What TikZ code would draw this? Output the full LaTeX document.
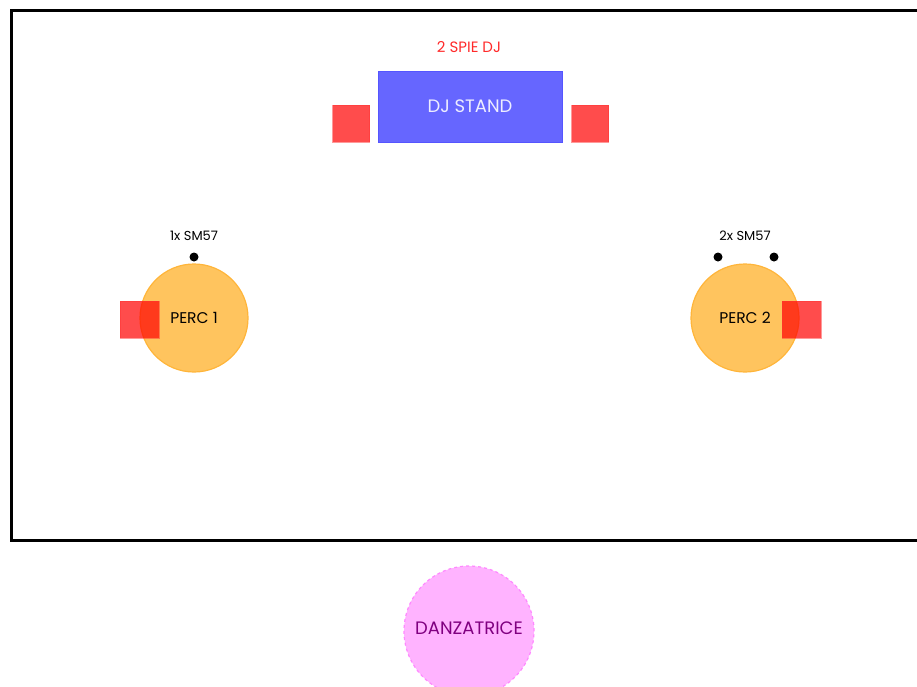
\documentclass[tikz,border=0pt]{standalone}
\usepackage{fontspec}
\setmainfont{Poppins}

\definecolor{djblue}{HTML}{6666FF}
\definecolor{djedge}{HTML}{5555FF}
\definecolor{percfill}{HTML}{FFC45E}
\definecolor{percedge}{HTML}{FFB53A}
\definecolor{danzfill}{HTML}{FFB3FF}
\definecolor{danzedge}{HTML}{FF88FF}
\definecolor{danztext}{HTML}{800080}
\definecolor{spietext}{HTML}{FF2A2A}

\begin{document}
\begin{tikzpicture}[x=1pt, y=-1pt,
	lbl/.style={inner sep=0pt, font=\fontsize{13}{15}\selectfont},
	djbox/.style={draw=djedge, fill=djblue, line width=1pt, minimum width=184pt, minimum height=71pt, text=white!88!djblue, font=\fontsize{18}{20}\selectfont},
	spkbox/.style={fill=red, fill opacity=0.7, draw=red!80, draw opacity=0.5, minimum width=37pt, minimum height=37pt, inner sep=0pt},
	percbox/.style={circle, fill=percfill, draw=percedge, line width=1.2pt, minimum size=108pt, inner sep=0pt, font=\fontsize{15.5}{17}\selectfont},
	micdot/.style={circle, fill=black, minimum size=9pt, inner sep=0pt},
	danzbox/.style={circle, fill=danzfill, draw=danzedge, dashed, line width=1.2pt, minimum size=130pt, inner sep=0pt, text=danztext, font=\fontsize{18}{20}\selectfont}]
				\useasboundingbox (0,0) rectangle (917,686);
				\clip (0,0) rectangle (917,686);
				
				% stage
				\draw[line width=3pt] (11,10) rectangle (940,540);
				
				% dj
				\node[djbox] (dj) at (470,106.5) {DJ STAND};
				\node[spkbox] (spkL) at (351,123.5) {};
				\node[spkbox] (spkR) at (590,123.5) {};
				\node[lbl, text=spietext, font=\fontsize{15}{17}\selectfont] (spie) at (469,47) {2 SPIE DJ};
				
				% percussion
				\node[percbox] (perc1) at (194,318) {PERC 1};
				\node[spkbox, minimum width=39pt] (spk1) at (139.5,319.5) {};
				\node[micdot] (mic1) at (194,257) {};
				\node[lbl] (mic1lbl) at (194,236) {1x SM57};
				
				\node[percbox] (perc2) at (745,318) {PERC 2};
				\node[spkbox, minimum width=39pt] (spk2) at (801.5,319.5) {};
				\node[micdot] (mic2a) at (718,257) {};
				\node[micdot] (mic2b) at (774,257) {};
				\node[lbl] (mic2lbl) at (745,236) {2x SM57};
				
				% dancer
				\node[danzbox, text depth=6pt] (danz) at (469,631) {DANZATRICE};
\end{tikzpicture}
\end{document}
